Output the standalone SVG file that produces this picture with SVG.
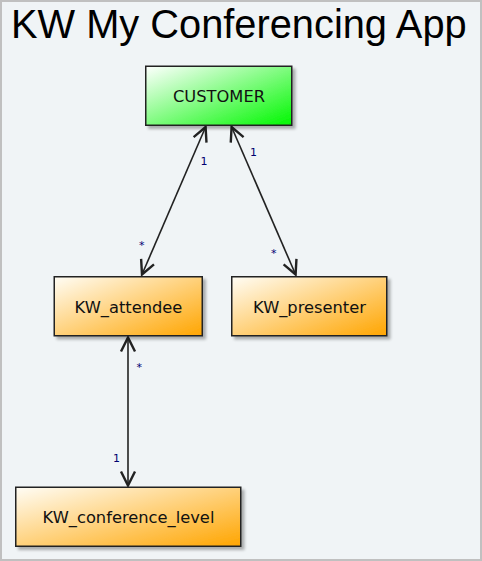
<svg xmlns="http://www.w3.org/2000/svg" width="482" height="561" viewBox="0 0 482 561">
<style>
.node rect.box{stroke:#222;stroke-width:1.5}
.node text{font-family:"DejaVu Sans",Verdana,sans-serif;font-size:16.3px;fill:#111;text-anchor:middle}
.conn line{stroke:#222;stroke-width:1.6;fill:none}
.lbl{font-family:"DejaVu Sans",Verdana,sans-serif;font-size:11px;fill:#000070}
.title{font-family:"Liberation Sans",Arial,sans-serif;font-size:39.8px;fill:#000}
</style>
<defs>
<linearGradient id="gGreen" x1="0" y1="0" x2="1" y2="1">
<stop offset="0" stop-color="#ffffff"/>
<stop offset="1" stop-color="#00f800"/>
</linearGradient>
<linearGradient id="gOrange" x1="0" y1="0" x2="1" y2="1">
<stop offset="0" stop-color="#fffdf6"/>
<stop offset="1" stop-color="#ffa500"/>
</linearGradient>
<filter id="shadow" x="-10%" y="-10%" width="130%" height="140%">
<feGaussianBlur in="SourceAlpha" stdDeviation="1.5"/>
<feOffset dx="3" dy="3" result="b"/>
<feComponentTransfer><feFuncA type="linear" slope="0.3"/></feComponentTransfer>
<feMerge><feMergeNode/><feMergeNode in="SourceGraphic"/></feMerge>
</filter>
<marker id="arr" markerUnits="userSpaceOnUse" markerWidth="30" markerHeight="30" refX="0" refY="0" orient="auto-start-reverse" overflow="visible">
<path d="M -14 -7 L 0 0 L -14 7" fill="none" stroke="#222" stroke-width="2.4" stroke-linejoin="miter"/>
</marker>
</defs>
<rect x="1" y="1" width="480" height="559" fill="#f0f4f6" stroke="#c0c0c0" stroke-width="2"/>
<text class="title" x="11" y="38">KW My Conferencing App</text>
<g id="connectors" class="conn">
<line x1="205.6" y1="127" x2="142" y2="274.5" marker-start="url(#arr)" marker-end="url(#arr)"/>
<line x1="231.6" y1="127" x2="295.6" y2="274.5" marker-start="url(#arr)" marker-end="url(#arr)"/>
<line x1="128" y1="337.5" x2="128" y2="485.5" marker-start="url(#arr)" marker-end="url(#arr)"/>
<text class="lbl" x="200.5" y="165">1</text>
<text class="lbl" x="139" y="249">*</text>
<text class="lbl" x="250" y="155.7">1</text>
<text class="lbl" x="271" y="257.3">*</text>
<text class="lbl" x="136.5" y="370.7">*</text>
<text class="lbl" x="113" y="461.7">1</text>
</g>
<g id="customer" class="node">
<rect class="box" x="145.75" y="66.25" width="146" height="59" fill="url(#gGreen)" filter="url(#shadow)"/>
<text x="219" y="101.7">CUSTOMER</text>
</g>
<g id="kw_attendee" class="node">
<rect class="box" x="54.25" y="276.75" width="148" height="59" fill="url(#gOrange)" filter="url(#shadow)"/>
<text x="128.5" y="312.5">KW_attendee</text>
</g>
<g id="kw_presenter" class="node">
<rect class="box" x="231.75" y="276.75" width="155" height="59" fill="url(#gOrange)" filter="url(#shadow)"/>
<text x="309.5" y="312.5">KW_presenter</text>
</g>
<g id="kw_conference_level" class="node">
<rect class="box" x="15.75" y="487.25" width="225" height="59" fill="url(#gOrange)" filter="url(#shadow)"/>
<text x="128.5" y="523.3">KW_conference_level</text>
</g>
</svg>
